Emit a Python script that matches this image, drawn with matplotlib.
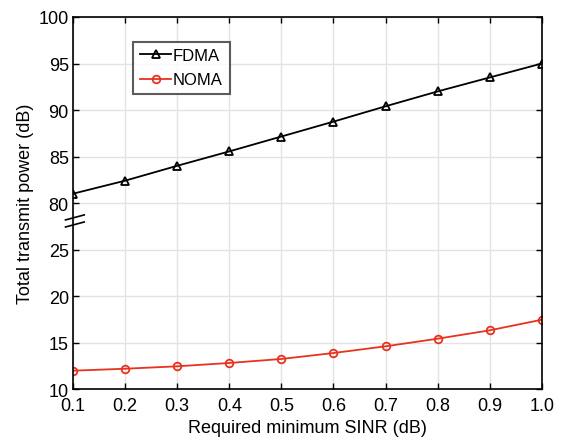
import numpy as np
import matplotlib.pyplot as plt

plt.rcParams['font.family'] = ['Liberation Sans', 'DejaVu Sans']

# data
sinr = [0.1, 0.2, 0.3, 0.4, 0.5, 0.6, 0.7, 0.8, 0.9, 1.0]
fdma = [81.0, 82.4, 84.0, 85.55, 87.15, 88.75, 90.4, 92.0, 93.5, 95.0]
noma = [11.97, 12.18, 12.44, 12.8, 13.23, 13.87, 14.59, 15.41, 16.31, 17.45]

y_ticks = [10, 15, 20, 25, 80, 85, 90, 95, 100]
x_ticks = [0.1, 0.2, 0.3, 0.4, 0.5, 0.6, 0.7, 0.8, 0.9, 1.0]

# upper segment shifted down so 80 sits where 30 would be
shift = 50
def ymap(v):
    v = np.asarray(v, dtype=float)
    return np.where(v >= 50, v - shift, v)

fig = plt.figure(figsize=(5.68, 4.39), dpi=100)
ax = fig.add_axes([0.1285, 0.1116, 0.8255, 0.8474])

ax.plot(sinr, ymap(fdma), color='k', marker='^', markersize=6, markerfacecolor='none',
        markeredgewidth=1.3, linewidth=1.3, label='FDMA')
ax.plot(sinr, ymap(noma), color='#e8321e', marker='o', markersize=5.5, markerfacecolor='none',
        markeredgewidth=1.3, linewidth=1.3, label='NOMA')

ax.set_xlim(0.1, 1.0)
ax.set_ylim(10, 50)
ax.set_xticks(x_ticks)
ax.set_xticklabels(['%.1f' % t for t in x_ticks])
ax.set_yticks(ymap(y_ticks))
ax.set_yticklabels([str(t) for t in y_ticks])
ax.grid(True, color='#e3e3e3', linewidth=1.0)
ax.set_axisbelow(True)
ax.tick_params(direction='in', top=True, right=True, labelsize=13, length=4, width=1)
ax.tick_params(axis='x', pad=6)
ax.tick_params(axis='y', pad=3)
for s in ax.spines.values():
    s.set_linewidth(1.2)

ax.set_xlabel('Required minimum SINR (dB)', fontsize=13, labelpad=3)
ax.set_ylabel('Total transmit power (dB)', fontsize=13, labelpad=3)

# axis break marks
yb = 28.07
for off in (-0.38, 0.38):
    ax.plot([-0.016, 0.024], [yb + off - 0.27, yb + off + 0.27], color='k', linewidth=1.2,
            transform=ax.get_yaxis_transform(), clip_on=False)

leg = ax.legend(loc='upper left', bbox_to_anchor=(0.128, 0.934), fontsize=12, frameon=True,
                fancybox=False, edgecolor='#333333', handlelength=1.9, handletextpad=0.1,
                borderpad=0.4, labelspacing=0.55, borderaxespad=0)
leg.get_frame().set_linewidth(1.5)

plt.savefig('out.png', dpi=100)
